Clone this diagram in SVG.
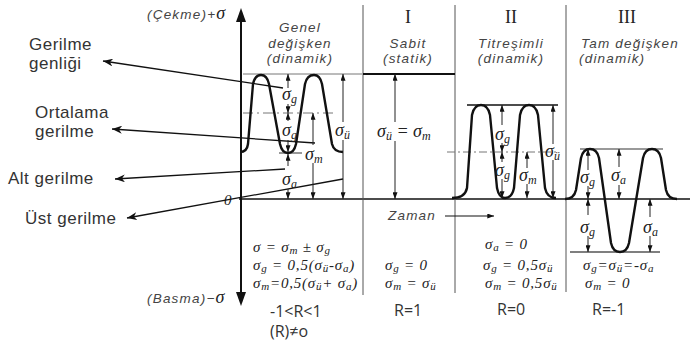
<svg xmlns="http://www.w3.org/2000/svg" width="690" height="343" viewBox="0 0 690 343">
<defs>
<marker id="t" viewBox="0 0 8 6" refX="8" refY="3" markerWidth="7" markerHeight="5" markerUnits="userSpaceOnUse" orient="auto"><path d="M0,0 L8,3 L0,6 z" fill="#111"/></marker>
<marker id="la" viewBox="0 0 10 8" refX="0" refY="4" markerWidth="10" markerHeight="8" markerUnits="userSpaceOnUse" orient="auto"><path d="M10,0 L0,4 L10,8 L7,4 z" fill="#111"/></marker>
</defs>
<style>
.lbl{font-family:"Liberation Sans",Arial,sans-serif;font-size:17px;fill:#333;letter-spacing:0.5px}
.hd{font-family:"Liberation Sans",Arial,sans-serif;font-style:italic;font-size:13.5px;fill:#444;letter-spacing:1.2px}
.rn{font-family:"Liberation Serif",serif;font-size:18px;fill:#222}
.sg{font-family:"Liberation Serif",serif;font-style:italic;font-size:18px;fill:#222}
.sub{font-size:12px}
.fm{font-family:"Liberation Serif",serif;font-style:italic;font-size:15px;fill:#222;letter-spacing:0.8px}
.fm .sub{font-size:11px}
.r{font-family:"Open Sans",sans-serif;font-size:16px;fill:#333}
.dim{stroke:#222;stroke-width:1;marker-end:url(#t)}
.lead{stroke:#111;stroke-width:1.3;fill:none;marker-start:url(#la)}
.wave{fill:none;stroke:#111;stroke-width:2.4;stroke-linejoin:round}
</style>
<rect width="690" height="343" fill="#fff"/>

<g id="axes">
<line x1="241" y1="20" x2="241" y2="294" stroke="#111" stroke-width="2"/>
<path d="M236,22 L241,8 L246,22 z" fill="#111"/>
<path d="M236,292 L241,306 L246,292 z" fill="#111"/>
<line x1="239" y1="199" x2="690" y2="199" stroke="#111" stroke-width="1.6"/>
<text x="224" y="205" class="fm" font-size="13">0</text>
<text x="147" y="19" class="hd" font-size="14" letter-spacing="0.6">(Çekme)+<tspan class="sg" font-size="16">σ</tspan></text>
<text x="147" y="303" class="hd" font-size="14" letter-spacing="0.6">(Basma)−<tspan class="sg" font-size="16">σ</tspan></text>
<line x1="363" y1="5" x2="363" y2="295" stroke="#555" stroke-width="1"/>
<line x1="455" y1="5" x2="455" y2="293" stroke="#555" stroke-width="1"/>
<line x1="566" y1="5" x2="566" y2="292" stroke="#555" stroke-width="1"/>
<text x="412" y="220" class="hd" font-size="15" text-anchor="middle">Zaman</text>
<line x1="445" y1="216" x2="494" y2="216" stroke="#111" stroke-width="1.2" marker-end="url(#t)"/>
</g>

<g id="labels">
<text x="29" y="50" class="lbl">Gerilme</text>
<text x="29" y="69" class="lbl">genliği</text>
<text x="35" y="118" class="lbl">Ortalama</text>
<text x="35" y="137" class="lbl">gerilme</text>
<text x="8" y="184" class="lbl">Alt gerilme</text>
<text x="25" y="224" class="lbl">Üst gerilme</text>
</g>

<g id="connectors">
<line class="lead" x1="103" y1="61" x2="283" y2="88"/>
<line class="lead" x1="112" y1="129" x2="315" y2="143"/>
<line class="lead" x1="115" y1="179" x2="285" y2="169"/>
<line class="lead" x1="127" y1="218" x2="343" y2="179"/>
</g>

<g id="panel-genel">
<text x="300" y="32" class="hd" text-anchor="middle">Genel</text>
<text x="300" y="47.5" class="hd" text-anchor="middle">değişken</text>
<text x="300" y="63" class="hd" text-anchor="middle">(dinamik)</text>
<line x1="243" y1="74" x2="362" y2="74" stroke="#777" stroke-width="1"/>
<line x1="243" y1="113" x2="335" y2="113" stroke="#777" stroke-width="1" stroke-dasharray="10 4 2 4"/>
<line x1="279" y1="153" x2="302" y2="153" stroke="#333" stroke-width="1"/>
<path class="wave" d="M240 152 Q247 152 248 144 L253 84 Q255 75 261 75 Q267 75 269 84 L280 144 Q282 153 288 153 Q294 153 296 144 L305 84 Q307 75 314 75 Q320 75 322 84 L332 144 Q334 152 343 152"/>
<line class="dim" x1="288" y1="88" x2="288" y2="74"/>
<line class="dim" x1="288" y1="104" x2="288" y2="113"/>
<line class="dim" x1="288" y1="121" x2="288" y2="113"/>
<line class="dim" x1="288" y1="140" x2="288" y2="152"/>
<line class="dim" x1="288" y1="166" x2="288" y2="154"/>
<line class="dim" x1="288" y1="189" x2="288" y2="199"/>
<line class="dim" x1="313" y1="145" x2="313" y2="113"/>
<line class="dim" x1="313" y1="163" x2="313" y2="199"/>
<line class="dim" x1="343" y1="122" x2="343" y2="74"/>
<line class="dim" x1="343" y1="140" x2="343" y2="199"/>
<text x="282" y="100" class="sg">σ<tspan class="sub" dy="3">g</tspan></text>
<text x="282" y="136" class="sg">σ<tspan class="sub" dy="3">g</tspan></text>
<text x="305" y="160" class="sg">σ<tspan class="sub" dy="3">m</tspan></text>
<text x="282" y="185" class="sg">σ<tspan class="sub" dy="3">a</tspan></text>
<text x="335" y="136" class="sg">σ<tspan class="sub" dy="3">ü</tspan></text>
<text x="253" y="252" class="fm">σ = σ<tspan class="sub" dy="2">m</tspan><tspan dy="-2"> ± σ</tspan><tspan class="sub" dy="2">g</tspan></text>
<text x="253" y="270" class="fm">σ<tspan class="sub" dy="2">g</tspan><tspan dy="-2"> = 0,5(σ</tspan><tspan class="sub" dy="2">ü</tspan><tspan dy="-2">-σ</tspan><tspan class="sub" dy="2">a</tspan><tspan dy="-2">)</tspan></text>
<text x="253" y="288" class="fm">σ<tspan class="sub" dy="2">m</tspan><tspan dy="-2">=0,5(σ</tspan><tspan class="sub" dy="2">ü</tspan><tspan dy="-2">+ σ</tspan><tspan class="sub" dy="2">a</tspan><tspan dy="-2">)</tspan></text>
<text x="270" y="317" class="r">-1&lt;R&lt;1</text>
<text x="270" y="337" class="r">(R)≠o</text>
</g>

<g id="panel-sabit">
<text x="408" y="23" class="rn" text-anchor="middle">I</text>
<text x="408" y="47.5" class="hd" text-anchor="middle">Sabit</text>
<text x="408" y="63" class="hd" text-anchor="middle">(statik)</text>
<line x1="363" y1="74" x2="455" y2="74" stroke="#111" stroke-width="2"/>
<line class="dim" x1="395" y1="122" x2="395" y2="74"/>
<line class="dim" x1="395" y1="141" x2="395" y2="199"/>
<text x="377" y="137" class="sg">σ<tspan class="sub" dy="3">ü</tspan><tspan dy="-3"> = σ</tspan><tspan class="sub" dy="3">m</tspan></text>
<text x="385" y="270" class="fm">σ<tspan class="sub" dy="2">g</tspan><tspan dy="-2"> = 0</tspan></text>
<text x="385" y="288" class="fm">σ<tspan class="sub" dy="2">m</tspan><tspan dy="-2"> = σ</tspan><tspan class="sub" dy="2">ü</tspan></text>
<text x="394" y="316" class="r">R=1</text>
</g>

<g id="panel-titresimli">
<text x="511" y="23" class="rn" text-anchor="middle">II</text>
<text x="511" y="47.5" class="hd" text-anchor="middle">Titreşimli</text>
<text x="511" y="63" class="hd" text-anchor="middle">(dinamik)</text>
<line x1="467" y1="105" x2="558" y2="105" stroke="#111" stroke-width="1.5"/>
<line x1="447" y1="152" x2="558" y2="152" stroke="#777" stroke-width="1" stroke-dasharray="8 3 2 3"/>
<path class="wave" d="M452 198 Q465 198 467 188 L472 115 Q474 105 481 105 Q488 105 490 115 L497 188 Q499 198 505 198 Q512 198 514 188 L520 115 Q522 105 529 105 Q536 105 538 115 L545 188 Q547 198 556 198"/>
<line class="dim" x1="502" y1="125" x2="502" y2="105"/>
<line class="dim" x1="502" y1="143" x2="502" y2="152"/>
<line class="dim" x1="502" y1="162" x2="502" y2="152"/>
<line class="dim" x1="502" y1="179" x2="502" y2="198"/>
<line class="dim" x1="527" y1="168" x2="527" y2="152"/>
<line class="dim" x1="527" y1="184" x2="527" y2="198"/>
<line class="dim" x1="553" y1="144" x2="553" y2="105"/>
<line class="dim" x1="553" y1="160" x2="553" y2="198"/>
<text x="495" y="140" class="sg">σ<tspan class="sub" dy="3">g</tspan></text>
<text x="495" y="176" class="sg">σ<tspan class="sub" dy="3">g</tspan></text>
<text x="519" y="181" class="sg">σ<tspan class="sub" dy="3">m</tspan></text>
<text x="545" y="157" class="sg">σ<tspan class="sub" dy="3">ü</tspan></text>
<text x="485" y="249" class="fm">σ<tspan class="sub" dy="2">a</tspan><tspan dy="-2"> = 0</tspan></text>
<text x="483" y="270" class="fm">σ<tspan class="sub" dy="2">g</tspan><tspan dy="-2"> = 0,5σ</tspan><tspan class="sub" dy="2">ü</tspan></text>
<text x="485" y="288" class="fm">σ<tspan class="sub" dy="2">m</tspan><tspan dy="-2"> = 0,5σ</tspan><tspan class="sub" dy="2">ü</tspan></text>
<text x="497" y="315" class="r">R=0</text>
</g>

<g id="panel-tam">
<text x="627" y="23" class="rn" text-anchor="middle">III</text>
<text x="581" y="47.5" class="hd">Tam değişken</text>
<text x="579" y="63" class="hd">(dinamik)</text>
<line x1="580" y1="149" x2="663" y2="149" stroke="#777" stroke-width="1.5"/>
<line x1="570" y1="252" x2="660" y2="252" stroke="#555" stroke-width="1.5"/>
<path class="wave" d="M565 199 Q574 199 576 190 L581 158 Q583 149 590 149 Q597 149 599 158 L611 243 Q613 252 620 252 Q627 252 629 243 L643 158 Q645 149 652 149 Q659 149 661 158 L666 190 Q668 199 677 199"/>
<line class="dim" x1="588" y1="170" x2="588" y2="149"/>
<line class="dim" x1="588" y1="186" x2="588" y2="199"/>
<line class="dim" x1="588" y1="215" x2="588" y2="199"/>
<line class="dim" x1="588" y1="236" x2="588" y2="252"/>
<line class="dim" x1="619" y1="167" x2="619" y2="149"/>
<line class="dim" x1="619" y1="185" x2="619" y2="199"/>
<line class="dim" x1="650" y1="217" x2="650" y2="199"/>
<line class="dim" x1="650" y1="236" x2="650" y2="252"/>
<text x="580" y="183" class="sg">σ<tspan class="sub" dy="3">g</tspan></text>
<text x="580" y="233" class="sg">σ<tspan class="sub" dy="3">g</tspan></text>
<text x="611" y="181" class="sg">σ<tspan class="sub" dy="3">a</tspan></text>
<text x="643" y="233" class="sg">σ<tspan class="sub" dy="3">a</tspan></text>
<text x="583" y="270" class="fm">σ<tspan class="sub" dy="2">g</tspan><tspan dy="-2">=σ</tspan><tspan class="sub" dy="2">ü</tspan><tspan dy="-2">=-σ</tspan><tspan class="sub" dy="2">a</tspan></text>
<text x="585" y="288" class="fm">σ<tspan class="sub" dy="2">m</tspan><tspan dy="-2"> = 0</tspan></text>
<text x="592" y="315" class="r">R=-1</text>
</g>
</svg>
